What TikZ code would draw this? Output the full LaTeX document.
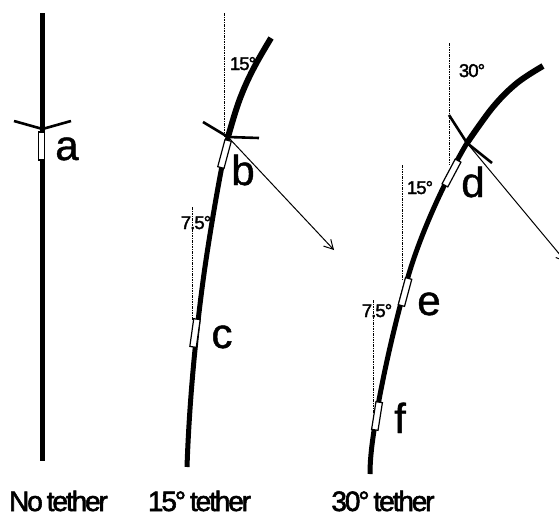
\documentclass[tikz,border=0pt]{standalone}
\usepackage{fontspec}
\setmainfont[FakeBold=1]{Liberation Sans}
\newfontfamily\tightfont[LetterSpace=-7.5,WordSpace=0.7,FakeBold=2]{Liberation Sans}
\newfontfamily\angfont[LetterSpace=-5,FakeBold=2]{Liberation Sans}
\usetikzlibrary{arrows.meta}
\tikzset{
  stalk/.style={line width=5pt,line cap=butt,line join=round},
  barb/.style={line width=2.6pt,line cap=butt,line join=round},
  guide/.style={line width=1pt,dash pattern=on 2.5pt off 1pt on 1pt off 1pt},
  force/.style={line width=1pt,-{Straight Barb[length=9pt,width=10pt,line width=1pt]}},
  sensor/.style={draw=black,fill=white,line width=1.2pt,minimum width=6.5pt,minimum height=28pt,inner sep=0pt,outer sep=0pt},
  letter/.style={font=\fontsize{42}{42}\selectfont,anchor=base,inner sep=0pt},
  ang/.style={font=\angfont\fontsize{18.5}{18.5}\selectfont,anchor=base,inner sep=0pt},
  captext/.style={font=\tightfont\fontsize{28}{28}\selectfont,anchor=base,inner sep=0pt},
}
\begin{document}
\begin{tikzpicture}[x=1pt,y=-1pt]
\useasboundingbox (0,0) rectangle (559,514);
\clip (0,0) rectangle (559,514);
% guides
\coordinate (g1a) at (224,13);  \coordinate (g1b) at (224,137);
\coordinate (g2a) at (192,207); \coordinate (g2b) at (192,320);
\coordinate (g3a) at (449.5,43);\coordinate (g3b) at (449.5,165);
\coordinate (g4a) at (402,165); \coordinate (g4b) at (402,279);
\coordinate (g5a) at (373,300); \coordinate (g5b) at (373,413);
\draw[guide] (g1a) -- (g1b);
\draw[guide] (g2a) -- (g2b);
\draw[guide] (g3a) -- (g3b);
\draw[guide] (g4a) -- (g4b);
\draw[guide] (g5a) -- (g5b);
% stalks
\coordinate (s1a) at (42.5,13); \coordinate (s1b) at (42.5,461);
\coordinate (jb) at (228,137);
\coordinate (jd) at (467,143);
\draw[stalk] (s1a) -- (s1b);
\draw[stalk,line width=6pt] plot[smooth,tension=0.6] coordinates {(271,38) (257,62) (246,84) (237,107) (228,137)};
\draw[stalk] (jb) .. controls (221,168) and (212,220) .. (206,260) .. controls (200,300) and (190,380) .. (187,467);
\draw[stalk,line width=6pt] plot[smooth,tension=0.6] coordinates {(543,66) (517,83) (493,107) (467,143)};
\draw[stalk] (jd) .. controls (445,180) and (420,235) .. (408,277) .. controls (398,312) and (387,357) .. (379,400) .. controls (375,425) and (370,450) .. (370,474);
% barbs
\coordinate (ja) at (42.5,129);
\coordinate (a1) at (14,121); \coordinate (a2) at (71,121);
\coordinate (b1) at (203,122); \coordinate (b2) at (259,138);
\coordinate (d1) at (449,115); \coordinate (d2) at (492,163);
\draw[barb] (a1) -- (ja) -- (a2);
\draw[barb] (b1) -- (jb) -- (b2);
\draw[barb] (d1) -- (jd) -- (d2);
% force arrows
\coordinate (fb) at (334,250);
\coordinate (fd) at (566,262);
\draw[force] (jb) -- (fb);
\draw[force] (jd) -- (fd);
% sensors
\node[sensor] (sa) at (41.5,146) {};
\node[sensor,rotate=-15] (sb) at (224.5,154) {};
\node[sensor,rotate=-8] (sc) at (195,333) {};
\node[sensor,rotate=-28] (sd) at (451.5,173) {};
\node[sensor,rotate=-15] (se) at (405,292) {};
\node[sensor,rotate=-9] (sf) at (377,416) {};
% letters
\node[letter] (la) at (67,160) {a};
\node[letter] (lb) at (243,185) {b};
\node[letter] (lc) at (222,348) {c};
\node[letter] (ld) at (473,197) {d};
\node[letter] (le) at (429,315) {e};
\node[letter] (lf) at (400,433) {f};
% angles
\node[ang] (t1) at (243,70) {15°};
\node[ang] (t2) at (196,229) {7.5°};
\node[ang] (t3) at (472,77) {30°};
\node[ang] (t4) at (420,194) {15°};
\node[ang] (t5) at (377,317) {7.5°};
% captions
\node[captext] (c1) at (58.5,511) {No tether};
\node[captext] (c2) at (199.5,511) {15° tether};
\node[captext] (c3) at (383,511) {30° tether};
\end{tikzpicture}
\end{document}
